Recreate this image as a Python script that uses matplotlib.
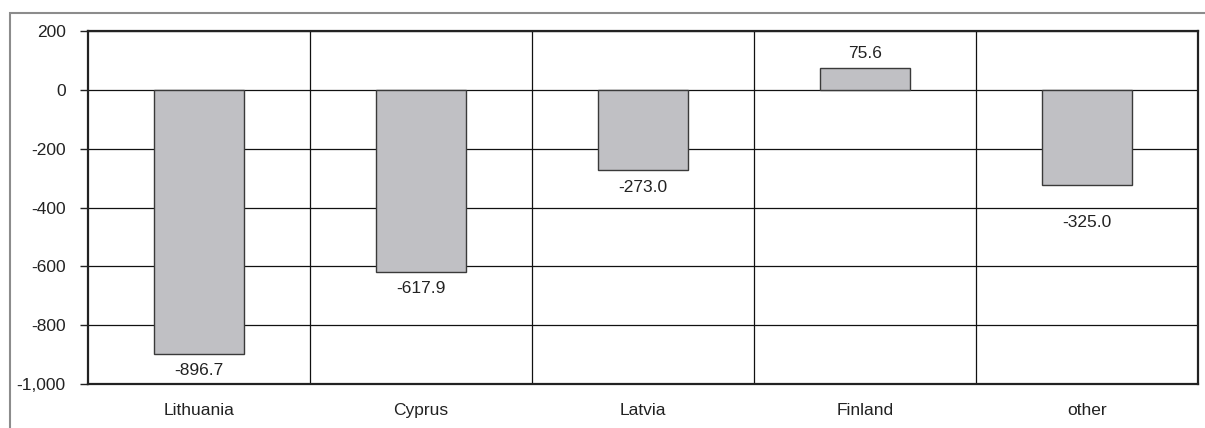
import matplotlib.pyplot as plt
from matplotlib.patches import Rectangle
import numpy as np

plt.rcParams['font.family'] = ['Liberation Sans', 'DejaVu Sans']

countries = ['Lithuania', 'Cyprus', 'Latvia', 'Finland', 'other']
values = [-896.7, -617.9, -273.0, 75.6, -325.0]
yticks = [200, 0, -200, -400, -600, -800, -1000]

FS = 12.5


def main():
    fig = plt.figure(figsize=(12.05, 4.28), dpi=100)

    # grey frame around the chart, cut off at the right and bottom
    fig.patches.append(Rectangle((10 / 1205, -0.1), 1.2, 1.1 - 13 / 428,
                                 transform=fig.transFigure, fill=False,
                                 edgecolor='#8c8c8c', linewidth=1.5))

    ax = fig.add_axes([88 / 1205, 1 - 384 / 428, 1110 / 1205, 353 / 428])
    x = np.arange(len(countries))
    ax.bar(x, values, width=0.405, color='#c0c0c4', edgecolor='#3a3a3a',
           linewidth=1.0, zorder=3)

    for xi, v in zip(x, values):
        if v >= 0:
            ax.annotate(f'{v:.1f}', (xi, v), xytext=(0, 5),
                        textcoords='offset points', ha='center', va='bottom',
                        fontsize=FS, color='#222222')
        else:
            # keep the label off the gridline just under the bar end
            off = -7
            if -400 < v < -300:
                off = -21.5
            ax.annotate(f'{v:.1f}', (xi, v), xytext=(0, off),
                        textcoords='offset points', ha='center', va='top',
                        fontsize=FS, color='#222222')

    ax.set_xlim(-0.5, len(countries) - 0.5)
    ax.set_ylim(-1000, 200)
    ax.set_yticks(yticks)
    ax.set_yticklabels([f'{t:,}' for t in yticks], fontsize=FS, color='#222222')
    ax.set_xticks(x)
    ax.set_xticklabels(countries, fontsize=FS, color='#222222')
    ax.tick_params(axis='x', length=0, pad=14)
    ax.tick_params(axis='y', length=6, width=1, direction='out', pad=10,
                   color='#222222')

    for t in yticks:
        ax.axhline(t, color='#111111', linewidth=0.9, zorder=1)
    for b in x[:-1] + 0.5:
        ax.axvline(b, color='#111111', linewidth=0.9, zorder=1)

    for s in ax.spines.values():
        s.set_linewidth(1.6)
        s.set_color('#222222')

    fig.savefig('out.png', dpi=100)


if __name__ == "__main__":
    main()
